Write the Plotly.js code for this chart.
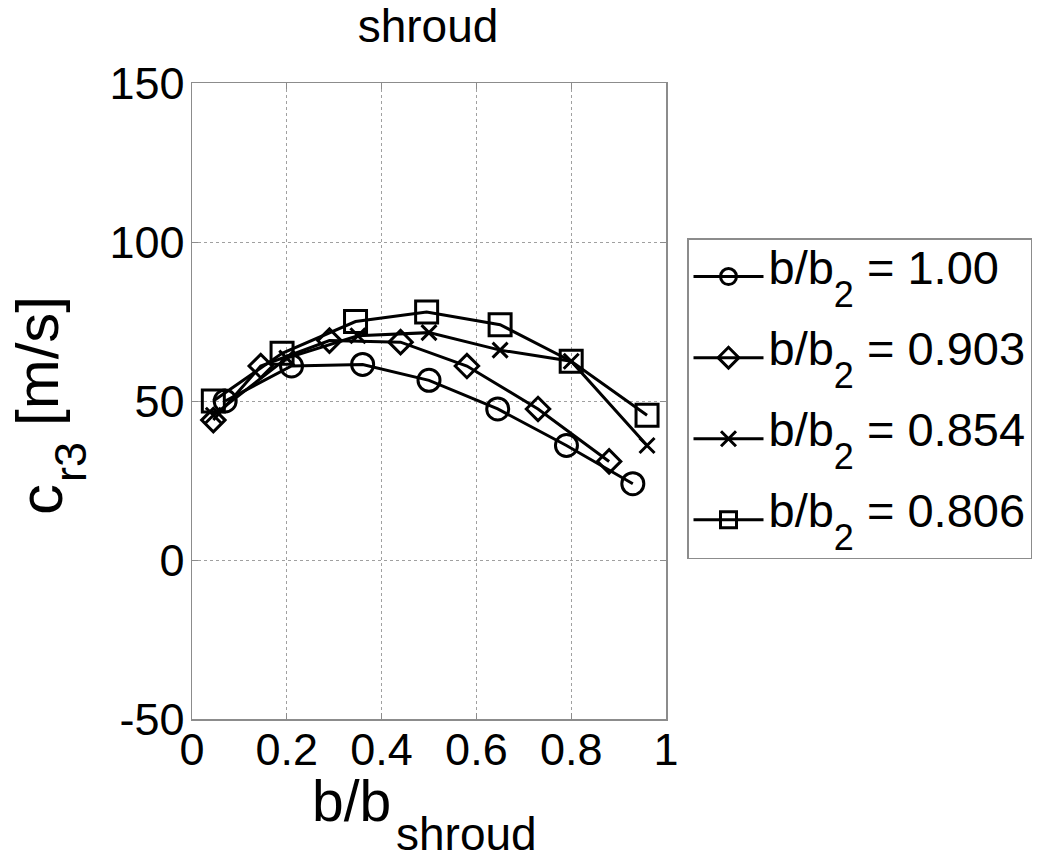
<!DOCTYPE html>
<html>
<head>
<meta charset="utf-8">
<script src="https://cdn.plot.ly/plotly-3.0.1.min.js"></script>
<style>html,body{margin:0;padding:0;background:#fff;}#chart{width:1037px;height:866px;}</style>
</head>
<body>
<div id="chart"></div>
<script>
// Data
const seriesValues = ["1.00", "0.903", "0.854", "0.806"];
const x100 = [0.07, 0.21, 0.36, 0.50, 0.645, 0.79, 0.93];
const y100 = [50, 61, 61.5, 56.5, 47.5, 36, 24];
const x0903 = [0.045, 0.145, 0.29, 0.44, 0.58, 0.73, 0.88];
const y0903 = [44, 61, 69, 68.5, 61, 47.5, 31];
const x0854 = [0.045, 0.20, 0.35, 0.50, 0.65, 0.80, 0.96];
const y0854 = [45.5, 63.5, 70.5, 71.5, 66, 62.5, 36];
const x0806 = [0.045, 0.19, 0.345, 0.495, 0.65, 0.80, 0.96];
const y0806 = [50, 65, 75, 78, 74, 62.5, 45.5];
const xTickVals = [0, 0.2, 0.4, 0.6, 0.8, 1];
const xTickText = ["0", "0.2", "0.4", "0.6", "0.8", "1"];
const yTickVals = [-50, 0, 50, 100, 150];
const yTickText = ["-50", "0", "50", "100", "150"];
const titleText = "shroud";
const xTitleMain = "b/b", xTitleSub = "shroud";
const yTitleMain = "c", yTitleSub = "r3", yTitleUnit = "[m/s]";

const FONT = "Liberation Sans, Arial, sans-serif";
const symbols = ["circle-open", "diamond-open", "x-thin-open", "square-open"];
const sizes = [22, 18, 15, 22];
const xs = [x100, x0903, x0854, x0806];
const ys = [y100, y0903, y0854, y0806];

// legend label: b/b_2 = value, with a lowered, fairly large subscript
const legendName = v =>
  "<span style=\"baseline-shift:11px\">b/b</span>" +
  "<span style=\"font-size:36px;baseline-shift:-12px\">2</span>" +
  "<span style=\"baseline-shift:11px\"> = " + v + "</span>";

const traces = xs.map((xv, i) => ({
  x: xv, y: ys[i], name: legendName(seriesValues[i]), type: "scatter", mode: "lines+markers",
  legendgroup: "g" + i,
  line: {color: "#000", width: 3},
  marker: {symbol: symbols[i], size: sizes[i], color: "#000", line: {color: "#000", width: 3}}
}));

// plot area in pixels: left 192, right 666, top 83, bottom 719
const L = 192, R = 666, T = 83, B = 719;
const px = v => (v - L) / (R - L);
const py = v => (B - v) / (B - T);
const ann = (text, x, y, size, xa, ya, angle) => ({
  text: text, xref: "paper", yref: "paper", x: px(x), y: py(y), xanchor: xa, yanchor: ya,
  showarrow: false, textangle: angle || 0, font: {family: FONT, size: size, color: "#000"}
});

const layout = {
  width: 1037, height: 866,
  paper_bgcolor: "#fff", plot_bgcolor: "#fff",
  margin: {l: L, r: 1037 - R, t: T, b: 866 - B, pad: 0, autoexpand: false},
  font: {family: FONT, color: "#000", size: 45},
  title: {text: titleText, font: {family: FONT, size: 46, color: "#000"}, x: 428/1037, xanchor: "center", xref: "container", yref: "container", y: 1 - 26/866, yanchor: "middle"},
  xaxis: {
    range: [0, 1], tickvals: xTickVals, ticktext: xTickText,
    showgrid: true, gridcolor: "#a0a0a0", griddash: "dot", gridwidth: 1,
    zeroline: false, showline: true, linecolor: "#8c8c8c", linewidth: 1.5, mirror: "ticks",
    ticks: "inside", ticklen: 6, tickcolor: "#8c8c8c",
    tickfont: {family: FONT, size: 45, color: "#000"}, ticklabelstandoff: -10
  },
  yaxis: {
    range: [-50, 150], tickvals: yTickVals, ticktext: yTickText,
    showgrid: true, gridcolor: "#a0a0a0", griddash: "dot", gridwidth: 1,
    zeroline: false, showline: true, linecolor: "#8c8c8c", linewidth: 1.5, mirror: "ticks",
    ticks: "inside", ticklen: 6, tickcolor: "#8c8c8c",
    tickfont: {family: FONT, size: 45, color: "#000"}, ticklabelstandoff: -3
  },
  annotations: [
    ann(xTitleMain, 393, 801, 57, "right", "middle"),
    ann(xTitleSub, 394, 834, 46, "left", "middle"),
    ann(yTitleMain, 40, 500, 62, "center", "middle", -90),
    ann(yTitleSub, 71, 462, 45, "center", "middle", -90),
    ann(yTitleUnit, 37, 361, 60, "center", "middle", -90)
  ],
  showlegend: true,
  legend: {
    xref: "container", yref: "container",
    x: 687 / 1037, xanchor: "left", y: 1 - 238 / 866, yanchor: "top",
    bgcolor: "#fff", bordercolor: "#8c8c8c", borderwidth: 1.5,
    font: {family: FONT, size: 47, color: "#000"},
    tracegroupgap: 17, itemsizing: "trace", itemwidth: 70
  }
};

Plotly.newPlot("chart", traces, layout, {displayModeBar: false, staticPlot: true});
</script>
</body>
</html>
